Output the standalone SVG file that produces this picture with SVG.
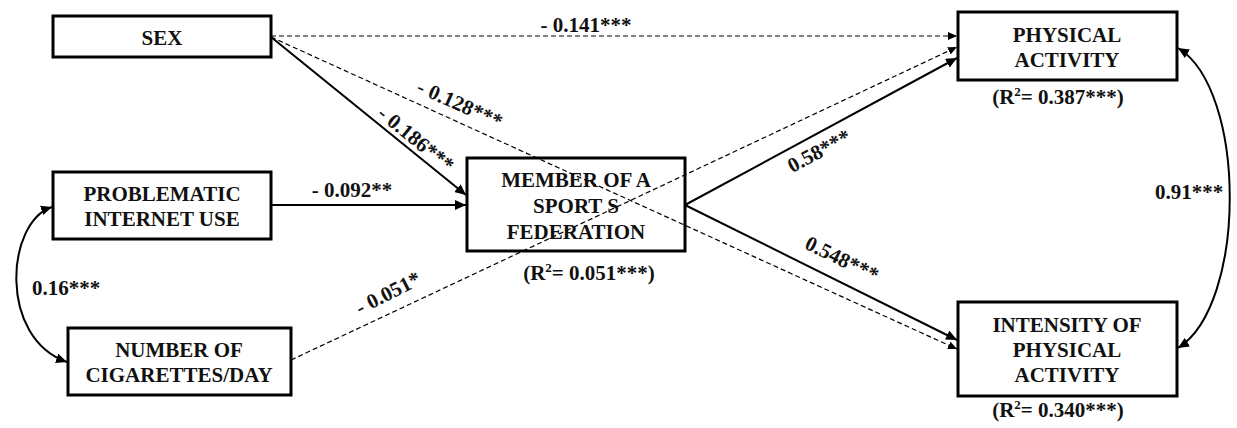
<svg xmlns="http://www.w3.org/2000/svg" width="1237" height="428" viewBox="0 0 1237 428">
<style>
.box{fill:#fff;stroke:#000;stroke-width:3}
text{font-family:'Liberation Serif','Times New Roman','DejaVu Serif',serif;font-weight:bold;font-size:21px;fill:#111;text-anchor:middle}
.s{fill:none;stroke:#000;stroke-width:2}
.d{fill:none;stroke:#000;stroke-width:1.2;stroke-dasharray:5,3}
</style>
<defs>
<marker id="a" markerUnits="userSpaceOnUse" markerWidth="12" markerHeight="10" refX="11" refY="5" orient="auto-start-reverse">
<path d="M0,0 L11,5 L0,10 z" fill="#000"/>
</marker>
<marker id="ad" markerUnits="userSpaceOnUse" markerWidth="10" markerHeight="8" refX="9" refY="4" orient="auto">
<path d="M0,0 L9,4 L0,8 z" fill="#000"/>
</marker>
</defs>
<rect width="1237" height="428" fill="#fff"/>
<g id="connectors">
<line class="d" x1="271" y1="36" x2="957" y2="36" marker-end="url(#ad)"/>
<line class="d" x1="271" y1="37" x2="957" y2="349" marker-end="url(#ad)"/>
<line class="d" x1="291" y1="360" x2="957" y2="47" marker-end="url(#ad)"/>
<line class="s" x1="271" y1="37" x2="466" y2="195" marker-end="url(#a)"/>
<line class="s" x1="271" y1="205" x2="466" y2="205" marker-end="url(#a)"/>
<line class="s" x1="685" y1="205" x2="957" y2="58" marker-end="url(#a)"/>
<line class="s" x1="685" y1="205" x2="957" y2="340" marker-end="url(#a)"/>
<path class="s" d="M52 207 C6 222, -2 338, 67 362" marker-start="url(#a)" marker-end="url(#a)"/>
<path class="s" d="M1178 48 C1247 90, 1247 305, 1178 348" marker-start="url(#a)" marker-end="url(#a)"/>
<text x="586" y="32">- 0.141***</text>
<text transform="translate(460,104) rotate(24)" y="7">- 0.128***</text>
<text transform="translate(416,139) rotate(39)" y="7">- 0.186***</text>
<text x="352" y="197">- 0.092**</text>
<text transform="translate(388,293) rotate(-27)" y="7">- 0.051*</text>
<text transform="translate(819,151) rotate(-28)" y="7">0.58***</text>
<text transform="translate(842,259) rotate(26)" y="7">0.548***</text>
<text x="66" y="295">0.16***</text>
<text x="1189" y="199">0.91***</text>
</g>
<g id="sex">
<rect class="box" x="53" y="16" width="218" height="41"/>
<text x="162" y="45">SEX</text>
</g>
<g id="piu">
<rect class="box" x="53" y="172" width="218" height="67"/>
<text x="162" y="201">PROBLEMATIC</text>
<text x="162" y="226">INTERNET USE</text>
</g>
<g id="cig">
<rect class="box" x="68" y="328" width="223" height="67"/>
<text x="179" y="357">NUMBER OF</text>
<text x="179" y="382">CIGARETTES/DAY</text>
</g>
<g id="member">
<rect class="box" x="467" y="158" width="218" height="93" fill-opacity="0"/>
<text x="576" y="187">MEMBER OF A</text>
<text x="576" y="213">SPORT S</text>
<text x="576" y="239">FEDERATION</text>
<text x="589" y="280">(R<tspan font-size="13" dy="-8">2</tspan><tspan dy="8">= 0.051***)</tspan></text>
</g>
<g id="pa">
<rect class="box" x="958" y="12" width="219" height="68"/>
<text x="1067" y="42">PHYSICAL</text>
<text x="1067" y="67">ACTIVITY</text>
<text x="1058" y="104">(R<tspan font-size="13" dy="-8">2</tspan><tspan dy="8">= 0.387***)</tspan></text>
</g>
<g id="ipa">
<rect class="box" x="958" y="302" width="219" height="94"/>
<text x="1067" y="332">INTENSITY OF</text>
<text x="1067" y="357">PHYSICAL</text>
<text x="1067" y="382">ACTIVITY</text>
<text x="1058" y="417">(R<tspan font-size="13" dy="-8">2</tspan><tspan dy="8">= 0.340***)</tspan></text>
</g>
</svg>
